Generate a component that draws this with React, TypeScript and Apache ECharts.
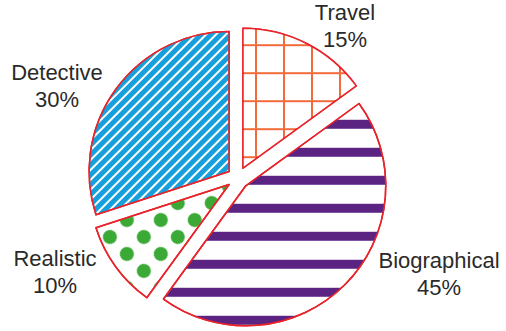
import React, { useEffect, useRef } from "react";
import * as echarts from "echarts";

const categories = ["Travel", "Biographical", "Realistic", "Detective"];
const values = [15, 45, 10, 30];
const labelSpots = [
  [345, 26],
  [439, 274],
  [55, 272],
  [57, 86],
];

export default function App() {
  const ref = useRef<HTMLDivElement>(null);
  useEffect(() => {
    if (!ref.current) return;
    const chart = echarts.init(ref.current, null, { renderer: "svg" });
    const decals: any[] = [
      {
        symbol: "rect",
        symbolSize: 1,
        color: "#ffffff",
        dashArrayX: [26, 2],
        dashArrayY: [26, 2],
        rotation: 0,
      },
      {
        symbol: "rect",
        symbolSize: 1,
        color: "#5b2483",
        dashArrayX: [1, 0],
        dashArrayY: [9, 19],
        rotation: 0,
      },
      {
        symbol: "circle",
        symbolSize: 1,
        color: "#3aa935",
        dashArrayX: [14, 10],
        dashArrayY: [14, 10],
        rotation: Math.PI / 4,
      },
      {
        symbol: "rect",
        symbolSize: 1,
        color: "#159fdc",
        dashArrayX: [1, 0],
        dashArrayY: [5, 2],
        rotation: -Math.PI / 4,
      },
    ];
    const fills = ["#f26b3a", "#ffffff", "#ffffff", "#ffffff"];
    const total = values.reduce((a, b) => a + b, 0);
    chart.setOption({
      animation: false,
      graphic: categories.map((c, i) => ({
        type: "text",
        x: labelSpots[i][0],
        y: labelSpots[i][1],
        silent: true,
        style: {
          text: `${c}\n${Math.round((values[i] / total) * 100)}%`,
          fontFamily: "Liberation Sans, Arial, sans-serif",
          fontSize: 22,
          lineHeight: 27,
          fill: "#2a2a2a",
          textAlign: "center",
          textVerticalAlign: "middle",
        },
      })),
      series: [
        {
          type: "pie",
          center: [238, 178],
          radius: [0, 140],
          startAngle: 90,
          clockwise: true,
          selectedMode: "multiple",
          selectedOffset: 11,
          emphasis: { disabled: true },
          itemStyle: { borderColor: "#e8232a", borderWidth: 1.5 },
          label: { show: false },
          labelLine: { show: false },
          data: categories.map((c, i) => ({
            name: c,
            value: values[i],
            selected: true,
            itemStyle: { color: fills[i], decal: decals[i] },
          })),
        },
      ],
    });
    return () => chart.dispose();
  }, []);
  return (
    <div
      ref={ref}
      style={{ position: "fixed", left: 0, top: 0, width: 506, height: 331, background: "#fff" }}
    />
  );
}
